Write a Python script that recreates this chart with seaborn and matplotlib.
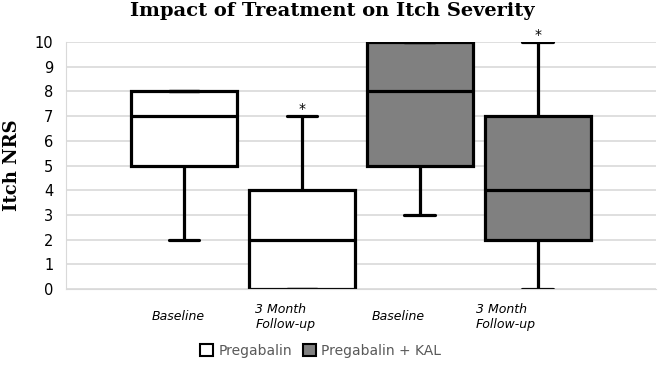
import pandas as pd
import matplotlib.pyplot as plt
import seaborn as sns
from matplotlib.patches import Patch

# five-number summaries
groups = ["Pregabalin Baseline", "Pregabalin 3M", "KAL Baseline", "KAL 3M"]
treatment = ["Pregabalin", "Pregabalin", "Pregabalin + KAL", "Pregabalin + KAL"]
tick_labels = ["Baseline", "3 Month\nFollow-up", "Baseline", "3 Month\nFollow-up"]
whisker_low = [2, 0, 3, 0]
q1 = [5, 0, 5, 2]
median = [7, 2, 8, 4]
q3 = [8, 4, 10, 7]
whisker_high = [8, 7, 10, 10]
significant = [False, True, False, True]

rows = []
for i, g in enumerate(groups):
    for v in [whisker_low[i], q1[i], median[i], q3[i], whisker_high[i]]:
        rows.append({"group": g, "treatment": treatment[i], "nrs": v})
df = pd.DataFrame(rows)

sns.set_style("white")
fig = plt.figure(figsize=(6.64, 3.79), dpi=100)
ax = fig.add_axes([0.0994, 0.2375, 0.888, 0.6515])

palette = {"Pregabalin": "white", "Pregabalin + KAL": "#808080"}
sns.boxplot(data=df, x="group", y="nrs", hue="treatment", order=groups,
            palette=palette, width=0.9, whis=(0, 100), linecolor="black",
            linewidth=2.3, legend=False, ax=ax)

# shorter whisker caps, like the original
for line in ax.lines:
    xd = line.get_xdata()
    yd = line.get_ydata()
    if len(xd) == 2 and yd[0] == yd[1] and abs(xd[1] - xd[0]) < 0.6:
        c = (xd[0] + xd[1]) / 2
        line.set_xdata([c - 0.13, c + 0.13])

for i in range(len(groups)):
    if significant[i]:
        ax.annotate("*", (i, whisker_high[i]), xytext=(0, 0), textcoords="offset points",
                    ha="center", va="bottom", fontsize=10, color="black")

ax.set_xlim(-1, 4)
ax.set_ylim(0, 10)
ax.set_yticks(range(0, 11))
ax.grid(axis="y", color="#d9d9d9", linewidth=1.2)
ax.set_axisbelow(True)
for s in ["top", "right"]:
    ax.spines[s].set_visible(False)
ax.spines["left"].set_color("#d9d9d9")
ax.spines["bottom"].set_color("#d9d9d9")
ax.tick_params(axis="y", length=0, pad=9, labelsize=10.5, labelcolor="black")
ax.tick_params(axis="x", length=0, pad=20, labelcolor="black")

# category labels sit a little left of the boxes in the original
label_shift = [-0.05, -0.14, -0.18, -0.27]
ax.set_xticks([i + label_shift[i] for i in range(len(groups))])
ax.set_xticklabels(tick_labels, fontstyle="italic", fontsize=9, multialignment="left",
                   va="center")
ax.set_xlabel("")
ax.set_ylabel("Itch NRS", fontfamily="DejaVu Serif", fontweight="bold", fontsize=13,
              labelpad=10, color="black")
fig.suptitle("Impact of Treatment on Itch Severity", fontfamily="DejaVu Serif",
             fontweight="bold", fontsize=14, x=0.5, y=0.995, color="black")

handles = [Patch(facecolor=palette[k], edgecolor="black", linewidth=1.5, label=k) for k in palette]
leg = fig.legend(handles=handles, loc="center", bbox_to_anchor=(0.483, 0.075), ncol=2,
                 frameon=False, fontsize=10, handlelength=0.9, handleheight=0.9,
                 handletextpad=0.4, columnspacing=0.8)
for t in leg.get_texts():
    t.set_color("#595959")

fig.savefig("out.png", dpi=100)
